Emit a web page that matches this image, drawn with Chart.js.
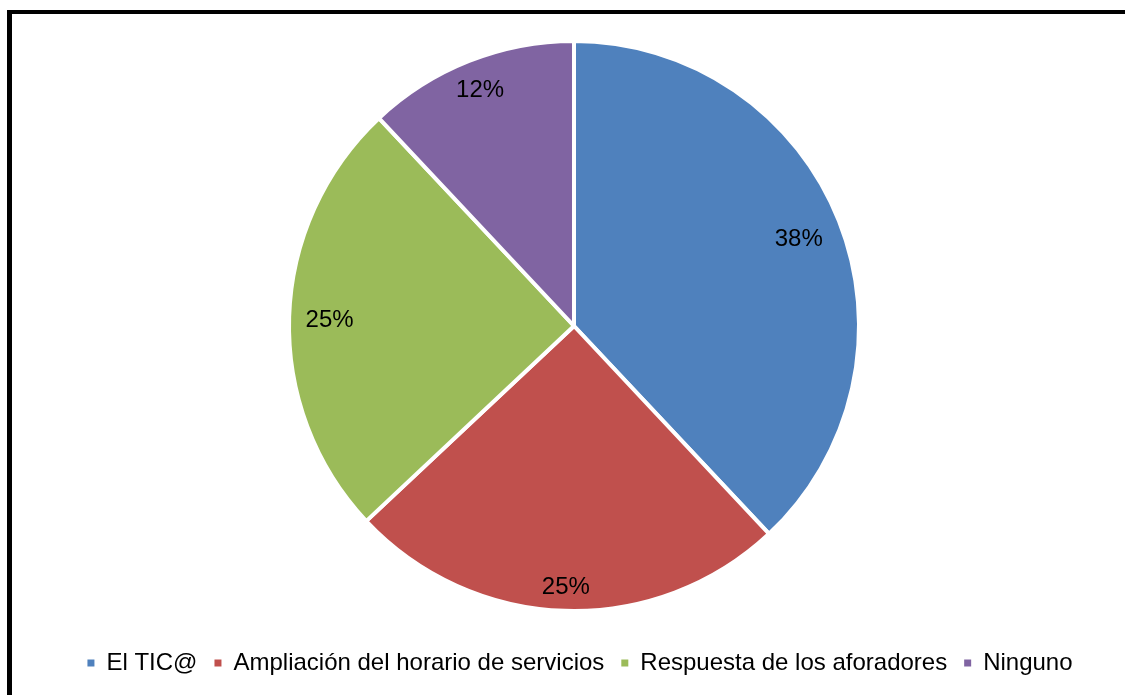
<!DOCTYPE html>
<html>
<head>
<meta charset="utf-8">
<script src="https://cdn.jsdelivr.net/npm/chart.js@4.4.1/dist/chart.umd.min.js"></script>
<style>
  html, body { margin: 0; padding: 0; background: #fff; overflow: hidden; }
  #wrap { position: relative; width: 1125px; height: 695px; }
  #frame { position: absolute; left: 7px; top: 10px; width: 1200px; height: 800px;
           border-left: 5px solid #000; border-top: 4px solid #000; box-sizing: border-box; }
  canvas { position: absolute; left: 0; top: 0; }
</style>
</head>
<body>
<div id="wrap">
  <div id="frame"></div>
  <canvas id="pieChart" width="1125" height="695"></canvas>
</div>
<script>
var categorias = ['El TIC@', 'Ampliación del horario de servicios', 'Respuesta de los aforadores', 'Ninguno'];
var valores = [38, 25, 25, 12];
var colores = ['#4F81BD', '#C0504D', '#9BBB59', '#8064A2'];

// how far out (fraction of radius) each percent label sits
var posEtiqueta = [0.848, 0.912, 0.858, 0.895];

var etiquetas = {
  id: 'etiquetas',
  afterLayout: function(chart) {
    // legend sits a little right of the pie in the original
    chart.legend.left += 6;
    chart.legend.right += 6;
  },
  afterDatasetsDraw: function(chart) {
    var ctx = chart.ctx;
    var meta = chart.getDatasetMeta(0);
    var total = valores.reduce(function(a, b) { return a + b; }, 0);
    ctx.save();
    ctx.font = '24px "Liberation Sans", Arial, sans-serif';
    ctx.fillStyle = '#000';
    ctx.textAlign = 'center';
    ctx.textBaseline = 'alphabetic';
    meta.data.forEach(function(arc, i) {
      var p = arc.getProps(['x', 'y', 'startAngle', 'endAngle', 'outerRadius'], true);
      var mid = (p.startAngle + p.endAngle) / 2;
      var r = p.outerRadius * posEtiqueta[i];
      var txt = Math.round(valores[i] / total * 100) + '%';
      ctx.fillText(txt, p.x + Math.cos(mid) * r, p.y + Math.sin(mid) * r + 8.5);
    });
    ctx.restore();
  }
};

var pieChartCanvas = document.getElementById('pieChart').getContext('2d');
var pieChart = new Chart(pieChartCanvas, {
  type: 'pie',
  data: {
    labels: categorias,
    datasets: [
      {
        data: valores,
        backgroundColor: colores,
        borderColor: '#fff',
        borderWidth: 4,
        radius: 285
      }
    ]
  },
  options: {
    responsive: false,
    animation: false,
    layout: { padding: { left: 23, right: 0, top: 18, bottom: 10 } },
    plugins: {
      legend: {
        position: 'bottom',
        labels: {
          boxWidth: 7,
          boxHeight: 7,
          padding: 17,
          color: '#000',
          font: { family: '"Liberation Sans", Arial, sans-serif', size: 24 },
          generateLabels: function(chart) {
            var items = Chart.overrides.doughnut.plugins.legend.labels.generateLabels(chart);
            items.forEach(function(it) {
              it.lineWidth = 0;
              it.strokeStyle = it.fillStyle;
            });
            return items;
          }
        }
      },
      tooltip: { enabled: false }
    }
  },
  plugins: [etiquetas]
});
</script>
</body>
</html>
